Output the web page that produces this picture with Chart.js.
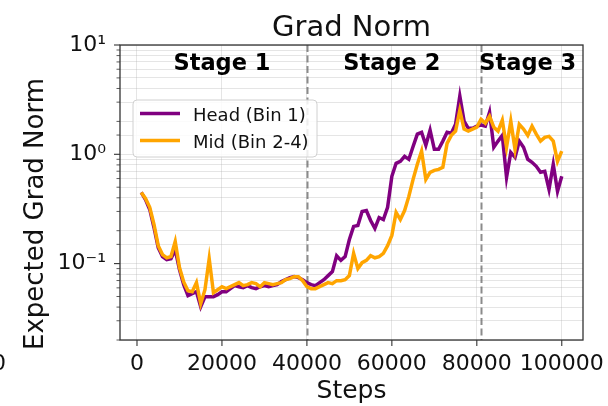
<!DOCTYPE html>
<html>
<head>
<meta charset="utf-8">
<title>Grad Norm</title>
<script src="https://cdn.jsdelivr.net/npm/chart.js@4.4.1/dist/chart.umd.min.js"></script>
<style>
  html, body { margin: 0; padding: 0; background: #fff; overflow: hidden; }
  #chart-grad { display: block; }
</style>
</head>
<body>
<canvas id="chart-grad" width="608" height="406"></canvas>
<script>
const steps = [
  1000, 2000, 3000, 4000, 5000, 6000, 7000, 8000, 9000, 10000,
  11000, 12000, 13000, 14000, 15000, 16000, 17000, 18000, 19000, 20000,
  21000, 22000, 23000, 24000, 25000, 26000, 27000, 28000, 29000, 30000,
  31000, 32000, 33000, 34000, 35000, 36000, 37000, 38000, 39000, 40000,
  41000, 42000, 43000, 44000, 45000, 46000, 47000, 48000, 49000, 50000,
  51000, 52000, 53000, 54000, 55000, 56000, 57000, 58000, 59000, 60000,
  61000, 62000, 63000, 64000, 65000, 66000, 67000, 68000, 69000, 70000,
  71000, 72000, 73000, 74000, 75000, 76000, 77000, 78000, 79000, 80000,
  81000, 82000, 83000, 84000, 85000, 86000, 87000, 88000, 89000, 90000,
  91000, 92000, 93000, 94000, 95000, 96000, 97000, 98000, 99000, 100000
];
const headBin1 = [
  0.448, 0.386, 0.313, 0.214, 0.140, 0.116, 0.109, 0.111, 0.134, 0.0881,
  0.0642, 0.0509, 0.0531, 0.0553, 0.0403, 0.0498, 0.0498, 0.0498, 0.052, 0.0553,
  0.0553, 0.059, 0.0629, 0.0615, 0.0602, 0.0629, 0.0602, 0.059, 0.0615, 0.0629,
  0.0615, 0.0629, 0.0642, 0.0684, 0.0713, 0.0744, 0.076, 0.0744, 0.0713, 0.067,
  0.0642, 0.0629, 0.067, 0.0713, 0.0776, 0.0845, 0.118, 0.107, 0.116, 0.166,
  0.219, 0.223, 0.300, 0.306, 0.248, 0.210, 0.264, 0.253, 0.327, 0.629,
  0.827, 0.863, 0.959, 0.900, 1.18, 1.53, 1.59, 1.21, 1.66, 1.11,
  1.11, 1.32, 1.59, 1.56, 1.88, 3.41, 2.01, 1.73, 1.73, 1.81,
  1.85, 1.81, 2.43, 1.16, 1.32, 1.49, 0.615, 1.04, 0.939, 1.32,
  1.16, 0.900, 0.845, 0.776, 0.684, 0.698, 0.478, 0.810, 0.458, 0.629
];
const midBin24 = [
  0.448, 0.395, 0.327, 0.228, 0.146, 0.121, 0.113, 0.116, 0.159, 0.092,
  0.068, 0.0565, 0.0553, 0.067, 0.043, 0.0577, 0.111, 0.0542, 0.0577, 0.0615,
  0.059, 0.0615, 0.0642, 0.067, 0.0629, 0.0642, 0.067, 0.0656, 0.0615, 0.067,
  0.0656, 0.0642, 0.0656, 0.067, 0.0713, 0.0728, 0.076, 0.076, 0.0698, 0.0615,
  0.059, 0.059, 0.0615, 0.0642, 0.067, 0.0656, 0.0698, 0.0698, 0.0713, 0.0776,
  0.124, 0.090, 0.102, 0.107, 0.118, 0.113, 0.116, 0.124, 0.146, 0.181,
  0.294, 0.253, 0.306, 0.412, 0.590, 0.810, 1.07, 0.590, 0.684, 0.713,
  0.728, 0.760, 1.26, 1.49, 1.63, 2.53, 1.70, 1.63, 1.70, 1.77,
  2.09, 1.92, 2.23, 1.77, 1.63, 2.05, 1.16, 2.01, 1.11, 1.88,
  1.70, 1.49, 1.81, 1.53, 1.32, 1.43, 1.46, 1.32, 0.863, 1.07
];
const seriesLabels = ['Head (Bin 1)', 'Mid (Bin 2-4)'];
const xTicks = [0, 20000, 40000, 60000, 80000, 100000];
const stageBounds = [40000, 81000];
const stageNames = ['Stage 1', 'Stage 2', 'Stage 3'];
const stageCenters = [20000, 60000, 92000];

const FONT = '"DejaVu Sans", sans-serif';
const INK = '#111';

function isDecade(v){ const e = Math.log10(v); return Math.abs(e - Math.round(e)) < 1e-6; }
function decadeLabel(v){
  const e = Math.round(Math.log10(v));
  const sup = { '-': '\u207B', '0': '\u2070', '1': '\u00B9', '2': '\u00B2', '3': '\u00B3' };
  return '10' + String(e).split('').map(c=>sup[c]).join('');
}

const decor = {
  id: 'decor',
  beforeDatasetsDraw(chart){
    const ctx = chart.ctx, a = chart.chartArea, x = chart.scales.x;
    ctx.save();
    ctx.strokeStyle = 'rgba(110,110,110,0.8)';
    ctx.lineWidth = 2;
    ctx.setLineDash([7, 3.5]);
    stageBounds.forEach(v=>{
      const px = Math.round(x.getPixelForValue(v)) + 0.5;
      ctx.beginPath(); ctx.moveTo(px, a.top); ctx.lineTo(px, a.bottom); ctx.stroke();
    });
    ctx.restore();
  },
  afterDraw(chart){
    const ctx = chart.ctx, a = chart.chartArea, x = chart.scales.x, y = chart.scales.y;
    ctx.save();
    // frame
    ctx.strokeStyle = '#333'; ctx.lineWidth = 1.3;
    ctx.strokeRect(a.left, a.top, a.right - a.left, a.bottom - a.top);
    // tick marks
    ctx.lineWidth = 1.1;
    x.ticks.forEach(t=>{
      const px = x.getPixelForValue(t.value);
      ctx.beginPath(); ctx.moveTo(px, a.bottom); ctx.lineTo(px, a.bottom + 6); ctx.stroke();
    });
    y.ticks.forEach(t=>{
      const py = y.getPixelForValue(t.value);
      const len = isDecade(t.value) ? 6 : 3.5;
      ctx.lineWidth = isDecade(t.value) ? 1.1 : 0.8;
      ctx.beginPath(); ctx.moveTo(a.left - len, py); ctx.lineTo(a.left, py); ctx.stroke();
    });
    // stage labels
    ctx.fillStyle = '#000';
    ctx.font = 'bold 22.5px ' + FONT;
    ctx.textAlign = 'center'; ctx.textBaseline = 'alphabetic';
    stageNames.forEach((s, i)=>{ ctx.fillText(s, x.getPixelForValue(stageCenters[i]), a.top + 25); });
    // legend
    const lx = 133, ly = 100, lw = 184, lh = 57;
    ctx.beginPath();
    ctx.roundRect(lx, ly, lw, lh, 4);
    ctx.fillStyle = 'rgba(255,255,255,0.85)'; ctx.fill();
    ctx.strokeStyle = '#d0d0d0'; ctx.lineWidth = 1; ctx.stroke();
    ctx.font = '18px ' + FONT; ctx.textAlign = 'left';
    chart.data.datasets.forEach((ds, i)=>{
      const yy = 113.5 + i * 27;
      ctx.strokeStyle = ds.borderColor; ctx.lineWidth = 3.5;
      ctx.beginPath(); ctx.moveTo(140, yy); ctx.lineTo(180, yy); ctx.stroke();
      ctx.fillStyle = INK; ctx.fillText(ds.label, 193, yy + 7.5);
    });
    // title and axis titles
    ctx.fillStyle = INK; ctx.textAlign = 'center';
    ctx.font = '29px ' + FONT;
    ctx.fillText('Grad Norm', (a.left + a.right) / 2, 36);
    ctx.font = '25px ' + FONT;
    ctx.fillText('Steps', (a.left + a.right) / 2, 398);
    ctx.save();
    ctx.translate(43, 214); ctx.rotate(-Math.PI / 2);
    ctx.font = '26px ' + FONT;
    ctx.fillText('Expected Grad Norm', 0, 0);
    ctx.restore();
    // clipped tick label from the neighbouring panel
    ctx.font = '22px ' + FONT; ctx.textAlign = 'right';
    ctx.fillText('0', 6, 370);
    ctx.restore();
  }
};

new Chart(document.getElementById('chart-grad'), {
  type: 'line',
  data: {
    labels: steps,
    datasets: [
      { label: seriesLabels[0], data: steps.map((s, i)=>({ x: s, y: headBin1[i] })), borderColor: '#800080', borderWidth: 3.5, pointRadius: 0, tension: 0, order: 1 },
      { label: seriesLabels[1], data: steps.map((s, i)=>({ x: s, y: midBin24[i] })), borderColor: '#FFA500', borderWidth: 3.5, pointRadius: 0, tension: 0, order: 0 }
    ]
  },
  options: {
    responsive: false,
    animation: false,
    devicePixelRatio: 1,
    layout: { padding: { left: 0, right: 25, top: 45, bottom: 0 } },
    plugins: { legend: { display: false }, title: { display: false }, tooltip: { enabled: false } },
    scales: {
      x: {
        type: 'linear', min: -4000, max: 105000,
        afterBuildTicks: s => { s.ticks = xTicks.map(v=>({ value: v })); },
        afterFit: s => { s.height = 66; s.paddingLeft = 0; s.paddingRight = 0; },
        grid: { color: 'rgba(170,170,170,0.3)', drawTicks: false },
        border: { display: false },
        ticks: { font: { family: FONT, size: 22 }, color: INK, padding: 11, maxRotation: 0, autoSkip: false, callback: v => String(v) }
      },
      y: {
        type: 'logarithmic', min: 0.02, max: 10,
        afterFit: s => { s.width = 120; s.paddingTop = 0; s.paddingBottom = 0; },
        grid: { color: 'rgba(170,170,170,0.3)', drawTicks: false },
        border: { display: false },
        ticks: {
          font: { family: FONT, size: 22 }, color: INK, padding: 14, autoSkip: false,
          callback: v => isDecade(v) ? decadeLabel(v) : ''
        }
      }
    }
  },
  plugins: [decor]
});
</script>
</body>
</html>
